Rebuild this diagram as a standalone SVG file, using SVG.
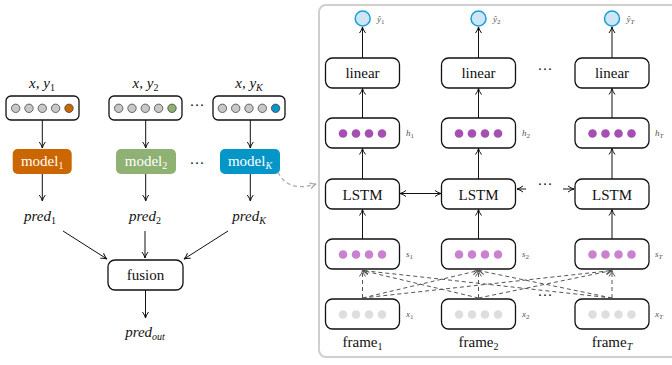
<svg xmlns="http://www.w3.org/2000/svg" width="672" height="365" viewBox="0 0 672 365">
<style>
text{font-family:"Liberation Serif","DejaVu Serif",serif;fill:#111}
.t{font-size:15px}
.it{font-style:italic}
.sm{font-size:9px;font-style:italic;fill:#555}
.up{font-style:normal}
.box{fill:#fff;stroke:#111;stroke-width:1.3}
.gd{fill:#c8c8c8;stroke:#444;stroke-width:0.8}
.hd{fill:#a64fb2}
.sd{fill:#c882cf}
.xd{fill:#dedede}
.ar{fill:none;stroke:#111;stroke-width:1;marker-end:url(#ah)}
.dl{fill:none;stroke:#555;stroke-width:1;stroke-dasharray:4,3;marker-end:url(#ahd)}
.wt{fill:#fff}
</style>
<defs>
<marker id="ah" viewBox="0 0 8 8" refX="7" refY="4" markerWidth="8" markerHeight="8" markerUnits="userSpaceOnUse" orient="auto-start-reverse">
<path d="M1,1 Q4,3.3 7,4 Q4,4.7 1,7" fill="none" stroke="#111" stroke-width="1"/>
</marker>
<marker id="ahd" viewBox="0 0 8 8" refX="7" refY="4" markerWidth="8" markerHeight="8" markerUnits="userSpaceOnUse" orient="auto">
<path d="M1,1 Q4,3.3 7,4 Q4,4.7 1,7" fill="none" stroke="#555" stroke-width="1"/>
</marker>
<marker id="ahg" viewBox="0 0 8 8" refX="7" refY="4" markerWidth="8" markerHeight="8" markerUnits="userSpaceOnUse" orient="auto">
<path d="M1,1 Q4,3.3 7,4 Q4,4.7 1,7" fill="none" stroke="#aaa" stroke-width="1.3"/>
</marker>
</defs>
<rect width="672" height="365" fill="#fff"/>

<!-- right panel -->
<rect id="panel" x="319" y="5" width="370" height="352" rx="7" fill="#fff" stroke="#cfcfcf" stroke-width="2"/>

<!-- LEFT: data boxes -->
<g id="data1">
<text class="t it" x="42" y="88" text-anchor="middle">x, y<tspan class="up" font-size="10" dy="3">1</tspan></text>
<rect class="box" x="6" y="96" width="73" height="24" rx="5"/>
<circle class="gd" cx="15.7" cy="108.3" r="4.2"/><circle class="gd" cx="29" cy="108.3" r="4.2"/><circle class="gd" cx="42.3" cy="108.3" r="4.2"/><circle class="gd" cx="55.6" cy="108.3" r="4.2"/><circle cx="69" cy="108.3" r="4.2" fill="#cc6600" stroke="#444" stroke-width="0.8"/>
</g>
<g id="data2">
<text class="t it" x="145.5" y="88" text-anchor="middle">x, y<tspan class="up" font-size="10" dy="3">2</tspan></text>
<rect class="box" x="109" y="96" width="73" height="24" rx="5"/>
<circle class="gd" cx="118.7" cy="108.3" r="4.2"/><circle class="gd" cx="132" cy="108.3" r="4.2"/><circle class="gd" cx="145.3" cy="108.3" r="4.2"/><circle class="gd" cx="158.6" cy="108.3" r="4.2"/><circle cx="172" cy="108.3" r="4.2" fill="#8fb173" stroke="#444" stroke-width="0.8"/>
</g>
<g id="dataK">
<text class="t it" x="249" y="88" text-anchor="middle">x, y<tspan font-size="10" dy="3">K</tspan></text>
<rect class="box" x="213" y="96" width="72" height="24" rx="5"/>
<circle class="gd" cx="222.4" cy="108.3" r="4.2"/><circle class="gd" cx="235.7" cy="108.3" r="4.2"/><circle class="gd" cx="249" cy="108.3" r="4.2"/><circle class="gd" cx="262.3" cy="108.3" r="4.2"/><circle cx="275.6" cy="108.3" r="4.2" fill="#0596c8" stroke="#444" stroke-width="0.8"/>
</g>
<text class="t" x="197" y="110" text-anchor="middle">···</text>

<!-- models -->
<g id="model1">
<rect x="12.7" y="149" width="59" height="25" rx="5" fill="#cc6600"/>
<text class="t wt" x="42.2" y="166" text-anchor="middle">model<tspan font-size="10" dy="3">1</tspan></text>
</g>
<g id="model2">
<rect x="116" y="149" width="60" height="25" rx="5" fill="#8fb173"/>
<text class="t wt" x="146" y="166" text-anchor="middle">model<tspan font-size="10" dy="3">2</tspan></text>
</g>
<g id="modelK">
<rect x="220" y="149" width="60" height="25" rx="5" fill="#0596c8"/>
<text class="t wt" x="250" y="166" text-anchor="middle">model<tspan font-size="10" font-style="italic" dy="3">K</tspan></text>
</g>
<text class="t" x="197" y="168" text-anchor="middle">···</text>

<!-- preds -->
<g id="pred1"><text class="t it" x="40" y="221" text-anchor="middle">pred<tspan class="up" font-size="10" dy="3">1</tspan></text></g>
<g id="pred2"><text class="t it" x="145" y="221" text-anchor="middle">pred<tspan class="up" font-size="10" dy="3">2</tspan></text></g>
<g id="predK"><text class="t it" x="249" y="221" text-anchor="middle">pred<tspan font-size="10" dy="3">K</tspan></text></g>

<g id="fusion">
<rect class="box" x="108" y="260" width="75" height="30" rx="7"/>
<text class="t" x="145.5" y="280" text-anchor="middle">fusion</text>
</g>
<g id="predout"><text class="t it" x="145" y="337" text-anchor="middle">pred<tspan font-size="10" dy="3">out</tspan></text></g>

<!-- RIGHT columns -->
<g id="yhat1"><circle cx="362.7" cy="18.5" r="7.5" fill="#cde5f6" stroke="#1a9ed4" stroke-width="1.5"/><text class="sm" x="377" y="22">ŷ<tspan class="up" font-size="7" dy="2">1</tspan></text></g>
<g id="yhat2"><circle cx="478.5" cy="18.5" r="7.5" fill="#cde5f6" stroke="#1a9ed4" stroke-width="1.5"/><text class="sm" x="493" y="22">ŷ<tspan class="up" font-size="7" dy="2">2</tspan></text></g>
<g id="yhatT"><circle cx="612" cy="18.5" r="7.5" fill="#cde5f6" stroke="#1a9ed4" stroke-width="1.5"/><text class="sm" x="626.5" y="22">ŷ<tspan font-size="7" dy="2">T</tspan></text></g>

<g id="linear1"><rect class="box" x="325.5" y="58" width="74" height="30" rx="7"/><text class="t" x="362.5" y="78" text-anchor="middle">linear</text></g>
<g id="linear2"><rect class="box" x="441.5" y="58" width="74" height="30" rx="7"/><text class="t" x="478.5" y="78" text-anchor="middle">linear</text></g>
<g id="linearT"><rect class="box" x="575" y="58" width="74" height="30" rx="7"/><text class="t" x="612" y="78" text-anchor="middle">linear</text></g>
<text class="t" x="545" y="74" text-anchor="middle">···</text>

<g id="h1"><rect class="box" x="325.5" y="118" width="74" height="30" rx="7"/>
<circle class="hd" cx="343" cy="133.5" r="4.3"/><circle class="hd" cx="356" cy="133.5" r="4.3"/><circle class="hd" cx="369" cy="133.5" r="4.3"/><circle class="hd" cx="382" cy="133.5" r="4.3"/>
<text class="sm" x="406" y="136">h<tspan class="up" font-size="7" dy="2">1</tspan></text></g>
<g id="h2"><rect class="box" x="441.5" y="118" width="74" height="30" rx="7"/>
<circle class="hd" cx="459" cy="133.5" r="4.3"/><circle class="hd" cx="472" cy="133.5" r="4.3"/><circle class="hd" cx="485" cy="133.5" r="4.3"/><circle class="hd" cx="498" cy="133.5" r="4.3"/>
<text class="sm" x="522" y="136">h<tspan class="up" font-size="7" dy="2">2</tspan></text></g>
<g id="hT"><rect class="box" x="575" y="118" width="74" height="30" rx="7"/>
<circle class="hd" cx="592.5" cy="133.5" r="4.3"/><circle class="hd" cx="605.5" cy="133.5" r="4.3"/><circle class="hd" cx="618.5" cy="133.5" r="4.3"/><circle class="hd" cx="631.5" cy="133.5" r="4.3"/>
<text class="sm" x="655" y="136">h<tspan font-size="7" dy="2">T</tspan></text></g>

<g id="lstm1"><rect class="box" x="325.5" y="179" width="74" height="30" rx="7"/><text class="t" x="362.5" y="199.5" text-anchor="middle">LSTM</text></g>
<g id="lstm2"><rect class="box" x="441.5" y="179" width="74" height="30" rx="7"/><text class="t" x="478.5" y="199.5" text-anchor="middle">LSTM</text></g>
<g id="lstmT"><rect class="box" x="575" y="179" width="74" height="30" rx="7"/><text class="t" x="612" y="199.5" text-anchor="middle">LSTM</text></g>
<text class="t" x="545" y="189" text-anchor="middle">···</text>

<g id="s1"><rect class="box" x="325.5" y="239" width="74" height="30" rx="7"/>
<circle class="sd" cx="343" cy="254.5" r="4.3"/><circle class="sd" cx="356" cy="254.5" r="4.3"/><circle class="sd" cx="369" cy="254.5" r="4.3"/><circle class="sd" cx="382" cy="254.5" r="4.3"/>
<text class="sm" x="406" y="257">s<tspan class="up" font-size="7" dy="2">1</tspan></text></g>
<g id="s2"><rect class="box" x="441.5" y="239" width="74" height="30" rx="7"/>
<circle class="sd" cx="459" cy="254.5" r="4.3"/><circle class="sd" cx="472" cy="254.5" r="4.3"/><circle class="sd" cx="485" cy="254.5" r="4.3"/><circle class="sd" cx="498" cy="254.5" r="4.3"/>
<text class="sm" x="522" y="257">s<tspan class="up" font-size="7" dy="2">2</tspan></text></g>
<g id="sT"><rect class="box" x="575" y="239" width="74" height="30" rx="7"/>
<circle class="sd" cx="592.5" cy="254.5" r="4.3"/><circle class="sd" cx="605.5" cy="254.5" r="4.3"/><circle class="sd" cx="618.5" cy="254.5" r="4.3"/><circle class="sd" cx="631.5" cy="254.5" r="4.3"/>
<text class="sm" x="655" y="257">s<tspan font-size="7" dy="2">T</tspan></text></g>

<g id="x1"><rect class="box" x="325.5" y="299" width="74" height="30" rx="7"/>
<circle class="xd" cx="343" cy="314.5" r="4.3"/><circle class="xd" cx="356" cy="314.5" r="4.3"/><circle class="xd" cx="369" cy="314.5" r="4.3"/><circle class="xd" cx="382" cy="314.5" r="4.3"/>
<text class="sm" x="406" y="317">x<tspan class="up" font-size="7" dy="2">1</tspan></text>
<text class="t" x="362.5" y="347" text-anchor="middle">frame<tspan font-size="10" dy="3">1</tspan></text></g>
<g id="x2"><rect class="box" x="441.5" y="299" width="74" height="30" rx="7"/>
<circle class="xd" cx="459" cy="314.5" r="4.3"/><circle class="xd" cx="472" cy="314.5" r="4.3"/><circle class="xd" cx="485" cy="314.5" r="4.3"/><circle class="xd" cx="498" cy="314.5" r="4.3"/>
<text class="sm" x="522" y="317">x<tspan class="up" font-size="7" dy="2">2</tspan></text>
<text class="t" x="478.5" y="347" text-anchor="middle">frame<tspan font-size="10" dy="3">2</tspan></text></g>
<g id="xT"><rect class="box" x="575" y="299" width="74" height="30" rx="7"/>
<circle class="xd" cx="592.5" cy="314.5" r="4.3"/><circle class="xd" cx="605.5" cy="314.5" r="4.3"/><circle class="xd" cx="618.5" cy="314.5" r="4.3"/><circle class="xd" cx="631.5" cy="314.5" r="4.3"/>
<text class="sm" x="655" y="317">x<tspan font-size="7" dy="2">T</tspan></text>
<text class="t" x="612" y="347" text-anchor="middle">frame<tspan font-size="10" dy="3" font-style="italic">T</tspan></text></g>
<text class="t" x="545" y="300" text-anchor="middle">···</text>

<!-- connectors -->
<g id="connectors">
<path class="ar" d="M42.3,120 V148"/>
<path class="ar" d="M145.7,120 V148"/>
<path class="ar" d="M250.3,120 V148"/>
<path class="ar" d="M42.3,174 V201"/>
<path class="ar" d="M145.7,174 V201"/>
<path class="ar" d="M250.3,174 V201"/>
<path class="ar" d="M63,231 L107,259"/>
<path class="ar" d="M145,231 V258"/>
<path class="ar" d="M228,231 L184,259"/>
<path class="ar" d="M145.5,290 V318"/>
<path d="M278,172 Q288,193 316,184" fill="none" stroke="#aaa" stroke-width="1.3" stroke-dasharray="4,3" marker-end="url(#ahg)"/>

<path class="ar" d="M362.5,58 V27"/>
<path class="ar" d="M478.5,58 V27"/>
<path class="ar" d="M612,58 V27"/>
<path class="ar" d="M362.5,118 V88.5"/>
<path class="ar" d="M478.5,118 V88.5"/>
<path class="ar" d="M612,118 V88.5"/>
<path class="ar" d="M362.5,179 V148.5"/>
<path class="ar" d="M478.5,179 V148.5"/>
<path class="ar" d="M612,179 V148.5"/>
<path class="ar" d="M362.5,239 V209.5"/>
<path class="ar" d="M478.5,239 V209.5"/>
<path class="ar" d="M612,239 V209.5"/>
<path class="ar" d="M400,193.5 H441" marker-start="url(#ah)"/>
<path class="ar" d="M526,189 H517"/>
<path class="ar" d="M563,189 H574"/>

<path class="dl" d="M362.5,298 V270.5"/>
<path class="dl" d="M362.5,298 L478.5,270.5"/>
<path class="dl" d="M362.5,298 L612,270.5"/>
<path class="dl" d="M478.5,298 L362.5,270.5"/>
<path class="dl" d="M478.5,298 V270.5"/>
<path class="dl" d="M478.5,298 L612,270.5"/>
<path class="dl" d="M612,298 L362.5,270.5"/>
<path class="dl" d="M612,298 L478.5,270.5"/>
<path class="dl" d="M612,298 V270.5"/>
</g>
</svg>
